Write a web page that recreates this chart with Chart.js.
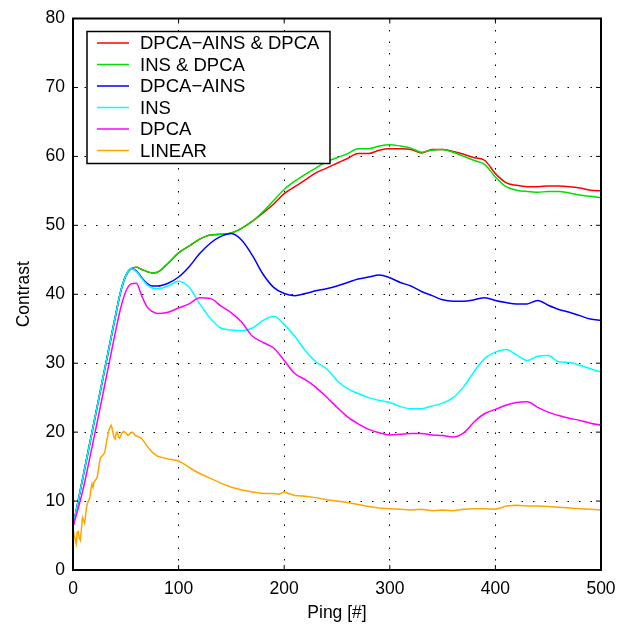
<!DOCTYPE html>
<html>
<head>
<meta charset="utf-8">
<script src="https://cdn.jsdelivr.net/npm/chart.js@4.4.1/dist/chart.umd.min.js"></script>
<style>
  html, body { margin: 0; padding: 0; background: #fff; }
  #wrap { width: 629px; height: 626px; }
</style>
</head>
<body>
<div id="wrap"><canvas id="contrast-chart" width="629" height="626"></canvas></div>
<script>
// ping positions shared by the five smooth curves
const pings = [0, 5, 10, 15, 20, 25, 30, 35, 40, 45, 50, 55, 60, 65, 70, 75, 80,
  90, 100, 110, 120, 130, 140, 150, 160, 170, 180, 190, 200, 210, 220, 230, 240,
  250, 260, 270, 280, 290, 300, 310, 320, 330, 340, 350, 360, 370, 380, 390, 400,
  410, 420, 430, 440, 450, 460, 470, 480, 490, 500];

const dpcaAinsDpca = [6.3, 10.1, 13.9, 17.7, 21.5, 25.3, 29.1, 32.9, 36.7, 40.3, 42.7, 43.7, 43.9, 43.6, 43.3, 43.1, 43.2,
  44.5, 46.0, 47.0, 48.0, 48.6, 48.7, 48.9, 49.6, 50.6, 51.8, 53.1, 54.6, 55.6, 56.6, 57.6, 58.3,
  59.0, 59.7, 60.4, 60.4, 60.9, 61.1, 61.1, 61.0, 60.5, 61.0, 61.0, 60.7, 60.3, 59.8, 59.4, 57.5,
  56.2, 55.8, 55.6, 55.6, 55.7, 55.7, 55.6, 55.4, 55.1, 55.0];

const insDpca = [6.3, 10.1, 13.9, 17.7, 21.5, 25.3, 29.1, 32.9, 36.7, 40.3, 42.7, 43.7, 43.9, 43.6, 43.3, 43.1, 43.2,
  44.5, 46.0, 47.0, 48.0, 48.6, 48.7, 48.9, 49.6, 50.6, 52.0, 53.6, 55.2, 56.4, 57.4, 58.3, 59.2,
  59.8, 60.4, 61.1, 61.1, 61.5, 61.7, 61.5, 61.2, 60.6, 60.9, 61.0, 60.6, 60.0, 59.4, 58.8, 57.0,
  55.6, 55.1, 54.9, 54.8, 54.9, 54.9, 54.7, 54.4, 54.2, 54.0];

const dpcaAins = [6.3, 10.1, 13.9, 17.7, 21.5, 25.3, 29.1, 32.9, 36.7, 40.3, 42.7, 43.7, 43.4, 42.4, 41.6, 41.2, 41.2,
  41.6, 42.5, 44.0, 45.9, 47.4, 48.4, 48.8, 47.8, 45.6, 42.9, 41.0, 40.1, 39.8, 40.1, 40.5, 40.8,
  41.2, 41.7, 42.2, 42.5, 42.8, 42.4, 41.7, 41.2, 40.4, 39.8, 39.2, 39.0, 39.0, 39.2, 39.5, 39.1,
  38.8, 38.6, 38.6, 39.1, 38.4, 37.8, 37.4, 36.9, 36.4, 36.2];

const ins = [6.3, 10.1, 13.9, 17.7, 21.5, 25.3, 29.1, 32.9, 36.7, 40.3, 42.7, 43.7, 43.3, 42.3, 41.4, 40.9, 40.8,
  41.2, 41.9, 41.0, 38.6, 36.5, 35.1, 34.8, 34.7, 35.1, 36.2, 36.8, 35.6, 33.9, 31.8, 30.2, 29.2,
  27.5, 26.3, 25.6, 25.0, 24.6, 24.3, 23.7, 23.4, 23.4, 23.8, 24.2, 25.0, 26.6, 28.8, 30.7, 31.6,
  32.0, 31.2, 30.4, 31.0, 31.1, 30.2, 30.1, 29.7, 29.2, 28.7];

const dpca = [6.3, 9.0, 12.0, 15.6, 19.3, 23.0, 26.8, 30.6, 34.4, 37.9, 40.4, 41.5, 41.6, 39.8, 38.2, 37.5, 37.2,
  37.4, 38.0, 38.6, 39.5, 39.4, 38.3, 37.3, 35.9, 33.9, 33.0, 32.2, 30.4, 28.5, 27.6, 26.5, 25.1,
  23.6, 22.2, 21.2, 20.4, 19.9, 19.6, 19.7, 19.8, 19.8, 19.6, 19.5, 19.3, 19.9, 21.5, 22.7, 23.3,
  23.9, 24.3, 24.4, 23.6, 22.9, 22.4, 22.0, 21.7, 21.3, 21.0];

// the linear curve is noisy at the start, so it gets its own finer pings
const linearPings = [0, 1, 2, 3, 4, 5, 6, 7, 8, 9, 10, 11, 12, 13, 14, 16, 17, 18, 19, 20, 22, 23, 25, 26, 28,
  30, 32, 34, 36, 37, 38, 39, 40, 41, 42, 43, 44, 45, 46, 48, 50, 52, 54, 56, 57, 59, 61, 65,
  70, 75, 80, 85, 90, 95, 100, 105, 110, 115, 120, 130, 140, 150, 160, 170, 180, 190, 195, 200,
  202, 210, 220, 230, 240, 250, 260, 270, 280, 290, 300, 310, 320, 330, 340, 350, 360, 370, 380,
  390, 400, 405, 410, 420, 430, 440, 450, 460, 470, 480, 490, 500];

const linear = [6.3, 5.0, 4.5, 3.8, 5.5, 5.6, 4.6, 4.3, 6.0, 7.6, 7.2, 6.8, 8.0, 9.3, 9.8, 10.5, 11.8, 12.5, 12.0, 12.8, 13.2, 13.5, 15.5, 16.3, 16.6,
  17.0, 18.8, 20.3, 21.0, 20.6, 19.8, 19.2, 19.0, 19.9, 20.0, 19.3, 19.1, 19.4, 19.8, 20.1, 19.9, 19.5, 19.8, 20.0, 19.9, 19.5, 19.4, 19.1,
  18.0, 17.1, 16.5, 16.3, 16.1, 16.0, 15.8, 15.4, 14.9, 14.4, 14.0, 13.3, 12.6, 12.0, 11.6, 11.3, 11.1, 11.1, 11.0, 11.3,
  11.2, 10.8, 10.7, 10.5, 10.2, 10.0, 9.8, 9.5, 9.2, 9.0, 8.9, 8.8, 8.7, 8.8, 8.6, 8.7, 8.6, 8.8, 8.9,
  8.9, 8.8, 9.0, 9.3, 9.4, 9.3, 9.3, 9.2, 9.1, 9.0, 8.9, 8.8, 8.7];

const xTicks = [0, 100, 200, 300, 400, 500];
const yTicks = [0, 10, 20, 30, 40, 50, 60, 70, 80];

const FONT = '"Liberation Sans", Arial, Helvetica, sans-serif';

const toPoints = (xs, ys) => xs.map((x, i) => ({ x: x, y: ys[i] }));

// legend order; later entries are painted on top, as in the original plot
const series = [
  { label: 'DPCA\u2212AINS & DPCA', color: '#ff0000', xs: pings, ys: dpcaAinsDpca },
  { label: 'INS & DPCA', color: '#00e000', xs: pings, ys: insDpca },
  { label: 'DPCA\u2212AINS', color: '#0000ff', xs: pings, ys: dpcaAins },
  { label: 'INS', color: '#00ffff', xs: pings, ys: ins },
  { label: 'DPCA', color: '#ff00ff', xs: pings, ys: dpca },
  { label: 'LINEAR', color: '#ffa500', xs: linearPings, ys: linear }
];

// matlab-like box with inward ticks on all four sides
const axesBox = {
  id: 'axesBox',
  afterDraw(chart) {
    const ctx = chart.ctx;
    const a = chart.chartArea;
    const xs = chart.scales.x;
    const ys = chart.scales.y;
    const tick = 5;
    ctx.save();
    ctx.strokeStyle = '#000';
    ctx.lineWidth = 1;
    ctx.beginPath();
    xTicks.forEach(v => {
      const px = xs.getPixelForValue(v);
      ctx.moveTo(px, a.bottom); ctx.lineTo(px, a.bottom - tick);
      ctx.moveTo(px, a.top); ctx.lineTo(px, a.top + tick);
    });
    yTicks.forEach(v => {
      const py = ys.getPixelForValue(v);
      ctx.moveTo(a.left, py); ctx.lineTo(a.left + tick, py);
      ctx.moveTo(a.right, py); ctx.lineTo(a.right - tick, py);
    });
    ctx.stroke();
    ctx.lineWidth = 2;
    ctx.strokeRect(a.left, a.top, a.right - a.left, a.bottom - a.top);
    ctx.restore();
  }
};

// legend box in the upper left corner of the plot
const boxLegend = {
  id: 'boxLegend',
  afterDraw(chart) {
    const ctx = chart.ctx;
    const a = chart.chartArea;
    const sets = chart.data.datasets.slice().reverse();
    const left = a.left + 14;
    const top = a.top + 13;
    const rowH = 21.5;
    const w = 243;
    const h = 11.5 + (sets.length - 1) * rowH + 13;
    ctx.save();
    ctx.fillStyle = '#fff';
    ctx.fillRect(left, top, w, h);
    ctx.strokeStyle = '#000';
    ctx.lineWidth = 1.5;
    ctx.strokeRect(left, top, w, h);
    ctx.font = '18.5px ' + FONT;
    ctx.textBaseline = 'middle';
    ctx.textAlign = 'left';
    sets.forEach((ds, i) => {
      const y = top + 11.5 + i * rowH;
      ctx.strokeStyle = ds.borderColor;
      ctx.lineWidth = 1.5;
      ctx.beginPath();
      ctx.moveTo(left + 10, y);
      ctx.lineTo(left + 42, y);
      ctx.stroke();
      ctx.fillStyle = '#000';
      ctx.fillText(ds.label, left + 53, y + 1);
    });
    ctx.restore();
  }
};

const ctx = document.getElementById('contrast-chart').getContext('2d');
new Chart(ctx, {
  type: 'line',
  data: {
    // Chart.js paints dataset 0 last, so reverse to keep LINEAR on top
    datasets: series.map(s => ({
      label: s.label,
      data: toPoints(s.xs, s.ys),
      borderColor: s.color,
      backgroundColor: s.color,
      borderWidth: 1.5,
      pointRadius: 0,
      fill: false,
      cubicInterpolationMode: s.xs === linearPings ? 'default' : 'monotone',
      tension: 0
    })).reverse()
  },
  options: {
    responsive: false,
    animation: false,
    layout: { padding: { top: 15, right: 28, left: 0, bottom: 0 } },
    plugins: {
      legend: { display: false },
      tooltip: { enabled: false }
    },
    scales: {
      x: {
        type: 'linear',
        min: 0,
        max: 500,
        afterFit: scale => { scale.height = 56; },
        afterBuildTicks: scale => { scale.ticks = xTicks.map(v => ({ value: v })); },
        ticks: { color: '#000', font: { family: FONT, size: 17.5 }, padding: 9, maxRotation: 0 },
        grid: { color: '#000', lineWidth: 1, drawTicks: false },
        border: { display: false, dash: [1.5, 10] },
        title: { display: true, text: 'Ping [#]', color: '#000', font: { family: FONT, size: 17.5 }, padding: { top: 0, bottom: 2 } }
      },
      y: {
        min: 0,
        max: 80,
        afterFit: scale => { scale.width = 73; },
        afterBuildTicks: scale => { scale.ticks = yTicks.map(v => ({ value: v })); },
        ticks: { color: '#000', font: { family: FONT, size: 17.5 }, padding: 8 },
        grid: { color: '#000', lineWidth: 1, drawTicks: false },
        border: { display: false, dash: [1.5, 10] },
        title: { display: true, text: 'Contrast', color: '#000', font: { family: FONT, size: 17.5 }, padding: { top: 14, bottom: 0 } }
      }
    }
  },
  plugins: [axesBox, boxLegend]
});
</script>
</body>
</html>
